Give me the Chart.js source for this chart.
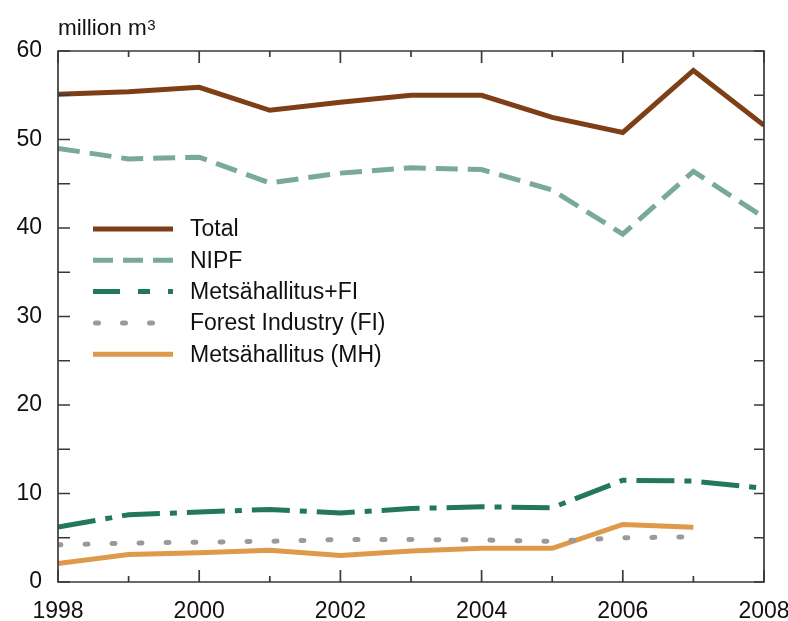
<!DOCTYPE html>
<html>
<head>
<meta charset="utf-8">
<script src="https://cdn.jsdelivr.net/npm/chart.js@4.4.1/dist/chart.umd.min.js"></script>
<style>
  html, body { margin: 0; padding: 0; background: #ffffff; }
  #wrap { width: 788px; height: 621px; }
</style>
</head>
<body>
<div id="wrap"><canvas id="c" width="788" height="621"></canvas></div>
<script>
// Annual fellings by owner group, million m3
const years = [1998, 1999, 2000, 2001, 2002, 2003, 2004, 2005, 2006, 2007, 2008];
const total          = [55.1, 55.4, 55.9, 53.3, 54.2, 55.0, 55.0, 52.5, 50.8, 57.8, 51.6];
const nipf           = [49.0, 47.8, 48.0, 45.1, 46.2, 46.8, 46.6, 44.3, 39.3, 46.4, 41.2];
const mhPlusFi       = [6.2, 7.6, 7.9, 8.2, 7.8, 8.3, 8.5, 8.4, 11.5, 11.4, 10.6];
const forestIndustry = [4.2, 4.4, 4.5, 4.6, 4.8, 4.8, 4.75, 4.6, 5.0, 5.1];   // 1998-2007
const metsahallitus  = [2.1, 3.1, 3.3, 3.6, 3.0, 3.5, 3.8, 3.8, 6.5, 6.2];    // 1998-2007
const seriesLabels = ['Total', 'NIPF', 'Metsähallitus+FI', 'Forest Industry (FI)', 'Metsähallitus (MH)'];
const unitLabel = 'million m';
const unitPower = '3';
const yTickValues = [0, 10, 20, 30, 40, 50, 60];
const xTickValues = [1998, 2000, 2002, 2004, 2006, 2008];

const FONT = '"Liberation Sans", Arial, Helvetica, sans-serif';
const TEXT = '#111111';
const AXIS = '#3a3a3a';

function pts(vals) {
  return vals.map((v, i) => ({ x: years[i], y: v }));
}

function line(label, vals, color, dash, cap, legendDash) {
  return {
    label,
    data: pts(vals),
    borderColor: color,
    backgroundColor: color,
    borderWidth: 5,
    borderDash: dash,
    borderCapStyle: cap,
    borderJoinStyle: 'miter',
    pointRadius: 0,
    pointHoverRadius: 0,
    tension: 0,
    fill: false,
    legendDash: legendDash || dash
  };
}

// Box around the plot with inward tick marks on all four sides
const framePlugin = {
  id: 'frame',
  afterDatasetsDraw(chart) {
    const { ctx, chartArea: a, scales } = chart;
    const xs = scales.x, ys = scales.y;
    ctx.save();
    ctx.strokeStyle = AXIS;
    ctx.lineWidth = 1.7;
    ctx.lineCap = 'butt';
    ctx.setLineDash([]);
    ctx.beginPath();
    ctx.rect(a.left, a.top, a.right - a.left, a.bottom - a.top);
    ctx.stroke();
    ctx.beginPath();
    for (let yr = years[0]; yr <= years[years.length - 1]; yr++) {
      const px = xs.getPixelForValue(yr);
      const len = (yr % 2 === 0) ? 12 : 6;
      ctx.moveTo(px, a.bottom); ctx.lineTo(px, a.bottom - len);
      ctx.moveTo(px, a.top); ctx.lineTo(px, a.top + len);
    }
    for (let v = 0; v <= 60; v += 5) {
      const py = ys.getPixelForValue(v);
      ctx.moveTo(a.left, py); ctx.lineTo(a.left + 12, py);
      ctx.moveTo(a.right, py); ctx.lineTo(a.right - 10, py);
    }
    ctx.stroke();
    ctx.restore();
  }
};

// Legend drawn inside the plot area
const legendPlugin = {
  id: 'insideLegend',
  afterDraw(chart) {
    const { ctx, chartArea: a } = chart;
    const x0 = a.left + 35;
    const sampleW = 80;
    const y0 = a.top + 178;
    const rowH = 31.3;
    ctx.save();
    chart.data.datasets.forEach((ds, i) => {
      const y = y0 + i * rowH;
      ctx.strokeStyle = ds.borderColor;
      ctx.lineWidth = ds.borderWidth;
      ctx.lineCap = ds.borderCapStyle;
      ctx.setLineDash(ds.legendDash);
      ctx.beginPath();
      const start = ds.borderCapStyle === 'round' ? x0 + 2.5 : x0;
      ctx.moveTo(start, y);
      ctx.lineTo(x0 + sampleW, y);
      ctx.stroke();
      ctx.setLineDash([]);
      ctx.fillStyle = TEXT;
      ctx.font = '23px ' + FONT;
      ctx.textBaseline = 'middle';
      ctx.textAlign = 'left';
      ctx.fillText(ds.label, x0 + sampleW + 17, y + 1);
    });
    ctx.restore();
  }
};

// Unit label above the value axis
const unitPlugin = {
  id: 'unitLabel',
  afterDraw(chart) {
    const { ctx, chartArea: a } = chart;
    ctx.save();
    ctx.fillStyle = TEXT;
    ctx.textBaseline = 'alphabetic';
    ctx.textAlign = 'left';
    ctx.font = '22.5px ' + FONT;
    const x = a.left;
    const base = a.top - 16;
    ctx.fillText(unitLabel, x, base);
    const w = ctx.measureText(unitLabel).width;
    ctx.font = '15px ' + FONT;
    ctx.fillText(unitPower, x + w + 0.5, base - 5);
    ctx.restore();
  }
};

const ctx = document.getElementById('c').getContext('2d');
new Chart(ctx, {
  type: 'line',
  data: {
    datasets: [
      line(seriesLabels[0], total, '#7f3f16', [], 'butt'),
      line(seriesLabels[1], nipf, '#79aa95', [22, 10], 'butt', [20, 10]),
      line(seriesLabels[2], mhPlusFi, '#23785a', [38, 10, 7, 10], 'butt', [27, 18, 12, 18]),
      line(seriesLabels[3], forestIndustry, '#9a9a9a', [3, 24], 'round', [3, 24]),
      line(seriesLabels[4], metsahallitus, '#de9a4a', [], 'butt')
    ]
  },
  options: {
    responsive: false,
    devicePixelRatio: 1,
    animation: false,
    layout: { padding: { left: 0, right: 0, top: 51, bottom: 0 } },
    plugins: {
      legend: { display: false },
      tooltip: { enabled: false },
      title: { display: false }
    },
    scales: {
      x: {
        type: 'linear',
        min: years[0],
        max: years[years.length - 1],
        afterBuildTicks(scale) { scale.ticks = xTickValues.map(v => ({ value: v })); },
        afterFit(scale) {
          scale.height = 39;
          scale.paddingLeft = 0;
          scale.paddingRight = 24;
        },
        ticks: {
          callback: v => String(v),
          color: TEXT,
          font: { family: FONT, size: 23 },
          padding: 16,
          maxRotation: 0,
          autoSkip: false
        },
        grid: { display: false, drawTicks: false },
        border: { display: false }
      },
      y: {
        min: 0,
        max: 60,
        afterBuildTicks(scale) { scale.ticks = yTickValues.map(v => ({ value: v })); },
        afterFit(scale) { scale.width = 58; },
        ticks: {
          callback: v => String(v),
          color: TEXT,
          font: { family: FONT, size: 23 },
          padding: 16
        },
        grid: { display: false, drawTicks: false },
        border: { display: false }
      }
    }
  },
  plugins: [framePlugin, legendPlugin, unitPlugin]
});
</script>
</body>
</html>
